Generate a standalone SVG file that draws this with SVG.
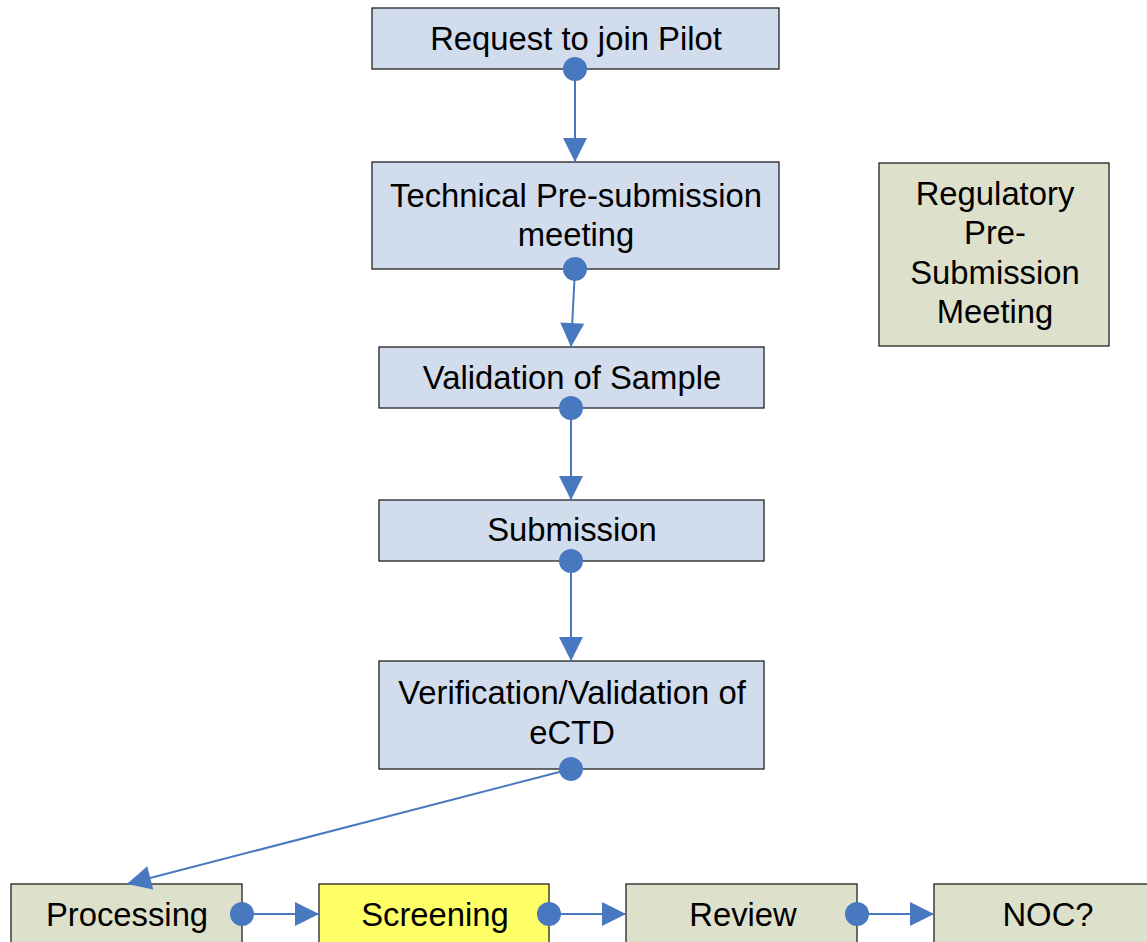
<svg xmlns="http://www.w3.org/2000/svg" width="1147" height="942" viewBox="0 0 1147 942">
<style>
.box{stroke:#222;stroke-width:1.3}
.blue{fill:#D1DCED}
.green{fill:#DDE1CB}
.yellow{fill:#FFFF66}
text{font-family:"Liberation Sans",Arial,sans-serif;font-size:32.8px;fill:#000;text-anchor:middle}
.conn{stroke:#4878C0;stroke-width:2;fill:none;marker-start:url(#dot);marker-end:url(#arr)}
</style>
<defs>
<marker id="arr" markerUnits="userSpaceOnUse" markerWidth="26" markerHeight="26" viewBox="0 0 26 26" refX="25" refY="13" orient="auto">
<path d="M1,1 L25,13 L1,25 z" fill="#4878C0"/>
</marker>
<marker id="dot" markerUnits="userSpaceOnUse" markerWidth="26" markerHeight="26" viewBox="0 0 26 26" refX="13" refY="13" orient="auto">
<circle cx="13" cy="13" r="12" fill="#4878C0"/>
</marker>
</defs>
<rect width="1147" height="942" fill="#fff"/>
<g id="n1"><rect class="box blue" x="372" y="8" width="407" height="61"/><text x="576" y="50">Request to join Pilot</text></g>
<g id="n2"><rect class="box blue" x="372" y="162" width="407" height="107"/><text x="576" y="207">Technical Pre-submission</text><text x="576" y="246">meeting</text></g>
<g id="n3"><rect class="box blue" x="379" y="347" width="385" height="61"/><text x="572" y="389">Validation of Sample</text></g>
<g id="n4"><rect class="box blue" x="379" y="500" width="385" height="61"/><text x="572" y="541">Submission</text></g>
<g id="n5"><rect class="box blue" x="379" y="661" width="385" height="108"/><text x="572" y="704">Verification/Validation of</text><text x="572" y="744">eCTD</text></g>
<g id="n6"><rect class="box green" x="879" y="163" width="230" height="183"/><text x="995" y="205">Regulatory</text><text x="995" y="244">Pre-</text><text x="995" y="284">Submission</text><text x="995" y="323">Meeting</text></g>
<g id="n7"><rect class="box green" x="11" y="884" width="231" height="70"/><text x="127" y="926">Processing</text></g>
<g id="n8"><rect class="box yellow" x="319" y="884" width="230" height="70"/><text x="435" y="926">Screening</text></g>
<g id="n9"><rect class="box green" x="626" y="884" width="231" height="70"/><text x="743" y="926">Review</text></g>
<g id="n10"><rect class="box green" x="934" y="884" width="225" height="70"/><text x="1048" y="926">NOC?</text></g>
<g id="connectors">
<path class="conn" d="M575,69 L575,162"/>
<path class="conn" d="M575,269 L571,347"/>
<path class="conn" d="M571,408 L571,500"/>
<path class="conn" d="M571,561 L571,661"/>
<path class="conn" d="M571,769 L127,884"/>
<path class="conn" d="M242,914 L319,914"/>
<path class="conn" d="M549,914 L626,914"/>
<path class="conn" d="M857,914 L934,914"/>
</g>
</svg>
